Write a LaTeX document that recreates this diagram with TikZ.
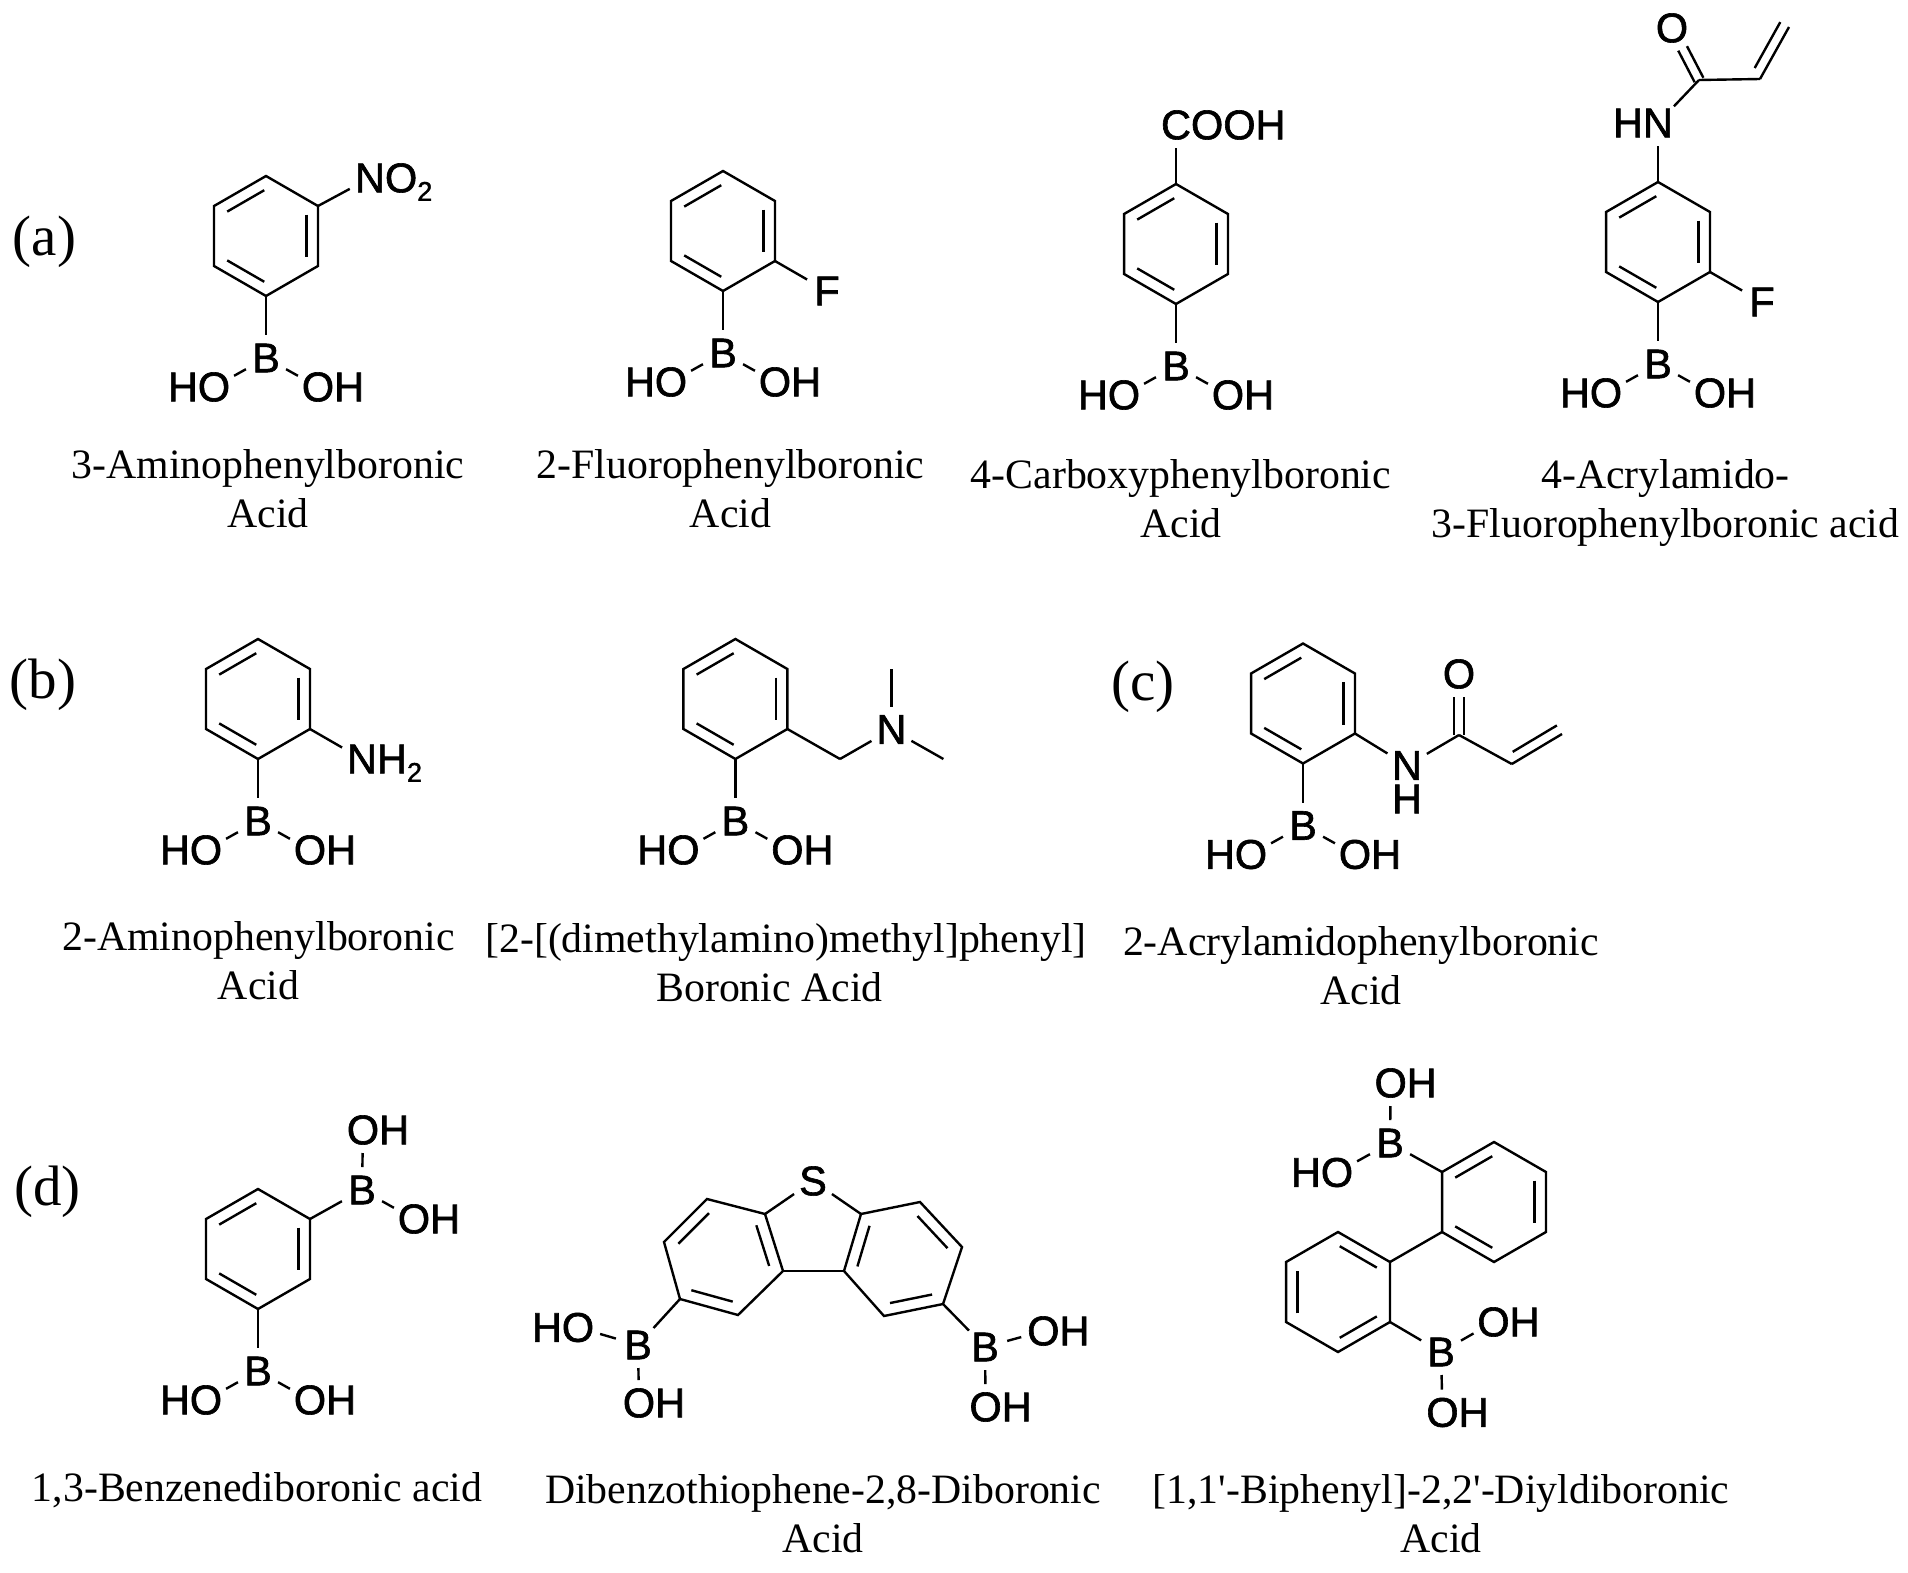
\documentclass[tikz,border=0pt]{standalone}
\usepackage{fontspec}
\setmainfont{Liberation Serif}
\newfontfamily\atomfont[FakeBold=1.5]{Liberation Sans}
\usetikzlibrary{calc}

\tikzset{
    bond/.style={line width=2.4pt},
    atom/.style={circle,inner sep=0pt,outer sep=0pt,minimum size=46pt,font=\atomfont\fontsize{41.5}{41.5}\selectfont},
    tail/.style={inner sep=0pt,outer sep=0pt,font=\atomfont\fontsize{41.5}{41.5}\selectfont},
    molname/.style={align=center,inner sep=0pt,anchor=base,font=\fontsize{41.8}{48.5}\selectfont},
    panel/.style={inner sep=0pt,font=\fontsize{57}{57}\selectfont}
}

\newcommand{\subtwo}{\raisebox{-8.5pt}{\fontsize{27}{27}\selectfont 2}}
\newcommand{\hexring}[2]{
    \draw[bond] (#11) \foreach \i in {2,...,6} {
            -- (#1\i)
        } -- cycle;
    \foreach \a/\b in {#2} {
            \draw[bond,shorten <=2pt,shorten >=2pt] ($(#1c)!0.78!(#1\a)$) -- ($(#1c)!0.78!(#1\b)$);
        }
}
\newcommand{\benzene}[2]{
    \coordinate (#1c) at (0,0);
    \foreach \i in {1,...,6} {
            \coordinate (#1\i) at ({60*\i-150}:60);
        }
    \hexring{#1}{#2}
}
\newcommand{\OHright}[2]{
    \node[atom] (#1) at (#2) {O};
    \node[tail,anchor=base west] (#1h) at ([xshift=16.1pt]#1.base) {H};
}
\newcommand{\OHleft}[2]{
    \node[atom] (#1) at (#2) {O};
    \node[tail,anchor=base east] (#1h) at ([xshift=-16.1pt]#1.base) {H};
}
\newcommand{\boronic}[1]{
    \node[atom] (#1b) at (0,122) {B};
    \OHleft{#1x}{-52,151}
    \OHright{#1y}{52,151}
    \draw[bond] (#14) -- (#1b);
    \draw[bond] (#1b) -- (#1x);
    \draw[bond] (#1b) -- (#1y);
}
\newcommand{\carbonyl}[2]{
    \draw[bond,shorten >=23pt] ($(#1)!4.9pt!90:(#2)$) -- ($(#2)!4.9pt!-90:(#1)$);
    \draw[bond,shorten >=23pt] ($(#1)!4.9pt!-90:(#2)$) -- ($(#2)!4.9pt!90:(#1)$);
}
\newcommand{\vinyl}[2]{
    \draw[bond] (#1) -- (#2);
    \draw[bond,shorten <=7pt] ($(#1)!10pt!90:(#2)$) -- ($(#2)!10pt!-90:(#1)$);
}

\begin{document}
\begin{tikzpicture}[x=1pt,y=-1pt]
    \useasboundingbox (0,0) rectangle (1908,1573);

    \node[panel] (panela) at (44.5,241.5) {(a)};
    \node[panel] (panelb) at (43,685) {(b)};
    \node[panel] (panelc) at (1143,687) {(c)};
    \node[panel] (paneld) at (47.5,1192) {(d)};

    \begin{scope}[shift={(266,236)}]
        \benzene{nitro}{6/1,2/3,4/5}
        \boronic{nitro}
        \node[atom] (nitron) at (104,-58) {N};
        \node[tail,anchor=base west] (nitroo) at ([xshift=15pt]nitron.base) {O\subtwo};
        \draw[bond] (nitro2) -- (nitron);
    \end{scope}
    \begin{scope}[shift={(723,231)}]
        \benzene{fluoro}{6/1,2/3,4/5}
        \boronic{fluoro}
        \node[atom] (fluorof) at (104,60) {F};
        \draw[bond] (fluoro3) -- (fluorof);
    \end{scope}
    \begin{scope}[shift={(1176,244)}]
        \benzene{carboxy}{6/1,2/3,4/5}
        \boronic{carboxy}
        \node[atom] (carboxyc) at (0,-119) {C};
        \node[tail,anchor=base west] (carboxyo) at ([xshift=15pt]carboxyc.base) {OOH};
        \draw[bond] (carboxy1) -- (carboxyc);
    \end{scope}
    \begin{scope}[shift={(1658,242)}]
        \benzene{acryl}{6/1,2/3,4/5}
        \boronic{acryl}
        \node[atom] (acrylf) at (104,60) {F};
        \draw[bond] (acryl3) -- (acrylf);
        \node[atom] (acryln) at (0,-119) {N};
        \node[tail,anchor=base east] (acrylh) at ([xshift=-15pt]acryln.base) {H};
        \coordinate (acrylco) at (41,-162);
        \coordinate (acrylcv) at (102,-163);
        \coordinate (acrylch) at (131,-215);
        \node[atom] (acrylo) at (14,-214) {O};
        \draw[bond] (acryl1) -- (acryln);
        \draw[bond] (acryln) -- (acrylco);
        \draw[bond] (acrylco) -- (acrylcv);
        \carbonyl{acrylco}{acrylo}
        \vinyl{acrylcv}{acrylch}
    \end{scope}

    \begin{scope}[shift={(258,699)}]
        \benzene{amino}{6/1,2/3,4/5}
        \boronic{amino}
        \node[atom] (aminon) at (104,60) {N};
        \node[tail,anchor=base west] (aminoh) at ([xshift=15pt]aminon.base) {H\subtwo};
        \draw[bond] (amino3) -- (aminon);
    \end{scope}
    \begin{scope}[shift={(735.4,699)}]
        \benzene{dimethyl}{6/1,2/3,4/5}
        \boronic{dimethyl}
        \coordinate (dimethylch) at (104.6,60);
        \coordinate (dimethylup) at (156,-30);
        \coordinate (dimethyldn) at (208,60);
        \node[atom] (dimethyln) at (156,30.5) {N};
        \draw[bond] (dimethyl3) -- (dimethylch);
        \draw[bond] (dimethylch) -- (dimethyln);
        \draw[bond] (dimethyln) -- (dimethylup);
        \draw[bond] (dimethyln) -- (dimethyldn);
    \end{scope}
    \begin{scope}[shift={(1303,703.5)}]
        \benzene{amide}{6/1,2/3,4/5}
        \boronic{amide}
        \node[atom] (amiden) at (104,62) {N};
        \node[atom] (amideh) at (104,95.5) {H};
        \coordinate (amideco) at (156,31.5);
        \coordinate (amidecv) at (208.8,60.5);
        \coordinate (amidech) at (259,30.5);
        \node[atom] (amideo) at (156,-29.5) {O};
        \draw[bond] (amide3) -- (amiden);
        \draw[bond] (amiden) -- (amideco);
        \draw[bond] (amideco) -- (amidecv);
        \carbonyl{amideco}{amideo}
        \vinyl{amidecv}{amidech}
    \end{scope}

    \begin{scope}[shift={(258,1249)}]
        \benzene{meta}{6/1,2/3,4/5}
        \boronic{meta}
        \node[atom] (metab) at (104,-59) {B};
        \OHright{metau}{105,-119}
        \OHright{metav}{156,-30}
        \draw[bond] (meta2) -- (metab);
        \draw[bond] (metab) -- (metau);
        \draw[bond] (metab) -- (metav);
    \end{scope}

    \coordinate (thioc) at (722.8,1256.6);
    \foreach \i/\x/\y in {1/707/1199,2/765/1214,3/783/1271,4/738/1315,5/680/1299,6/664/1242} {
            \coordinate (thio\i) at (\x,\y);
        }
    \hexring{thio}{6/1,2/3,4/5}
    \coordinate (phenc) at (902.3,1259);
    \foreach \i/\x/\y in {1/920/1202,2/962/1247,3/943/1304,4/884/1316,5/844/1271,6/861/1214} {
            \coordinate (phen\i) at (\x,\y);
        }
    \hexring{phen}{1/2,3/4,5/6}
    \node[atom] (thios) at (813,1181) {S};
    \draw[bond] (thio2) -- (thios);
    \draw[bond] (phen6) -- (thios);
    \draw[bond] (thio3) -- (phen5);
    \node[atom] (thiob) at (638,1345) {B};
    \OHleft{thiox}{578,1327.5}
    \OHright{thioy}{639,1403}
    \draw[bond] (thio5) -- (thiob);
    \draw[bond] (thiob) -- (thiox);
    \draw[bond] (thiob) -- (thioy);
    \node[atom] (phenb) at (985,1347) {B};
    \OHright{phenx}{1043.4,1331}
    \OHright{pheny}{985.6,1407}
    \draw[bond] (phen3) -- (phenb);
    \draw[bond] (phenb) -- (phenx);
    \draw[bond] (phenb) -- (pheny);

    \begin{scope}[shift={(1494,1202)}]
        \benzene{upper}{6/1,2/3,4/5}
        \node[atom] (upperb) at (-104,-59) {B};
        \OHright{upperu}{-103.3,-119}
        \OHleft{upperv}{-157,-29.5}
        \draw[bond] (upper6) -- (upperb);
        \draw[bond] (upperb) -- (upperu);
        \draw[bond] (upperb) -- (upperv);
    \end{scope}
    \begin{scope}[shift={(1338,1292)}]
        \benzene{lower}{1/2,3/4,5/6}
        \node[atom] (lowerb) at (103,60) {B};
        \OHright{loweru}{155.5,30}
        \OHright{lowerv}{104.5,120.5}
        \draw[bond] (lower3) -- (lowerb);
        \draw[bond] (lowerb) -- (loweru);
        \draw[bond] (lowerb) -- (lowerv);
    \end{scope}
    \draw[bond] (upper5) -- (lower2);

    \node[molname] (namenitro) at (268,527) {3-Aminophenylboronic\\Acid};
    \node[molname] (namefluoro) at (730.5,527) {2-Fluorophenylboronic\\Acid};
    \node[molname] (namecarboxy) at (1181,537) {4-Carboxyphenylboronic\\Acid};
    \node[molname] (nameacryl) at (1665.5,537) {4-Acrylamido-\\3-Fluorophenylboronic acid};
    \node[molname] (nameamino) at (258.5,999) {2-Aminophenylboronic\\Acid};
    \node[molname] (namedimethyl) at (786,1001) {[2-[(dimethylamino)methyl]phenyl]\\Boronic Acid\hspace*{33pt}};
    \node[molname] (nameamide) at (1361,1004) {2-Acrylamidophenylboronic\\Acid};
    \node[molname] (namemeta) at (257,1501) {1,3-Benzenediboronic acid};
    \node[molname] (namethio) at (823,1552) {Dibenzothiophene-2,8-Diboronic\\Acid};
    \node[molname] (namebiph) at (1441,1552) {[1,1\textquotesingle-Biphenyl]-2,2\textquotesingle-Diyldiboronic\\Acid};
\end{tikzpicture}
\end{document}
